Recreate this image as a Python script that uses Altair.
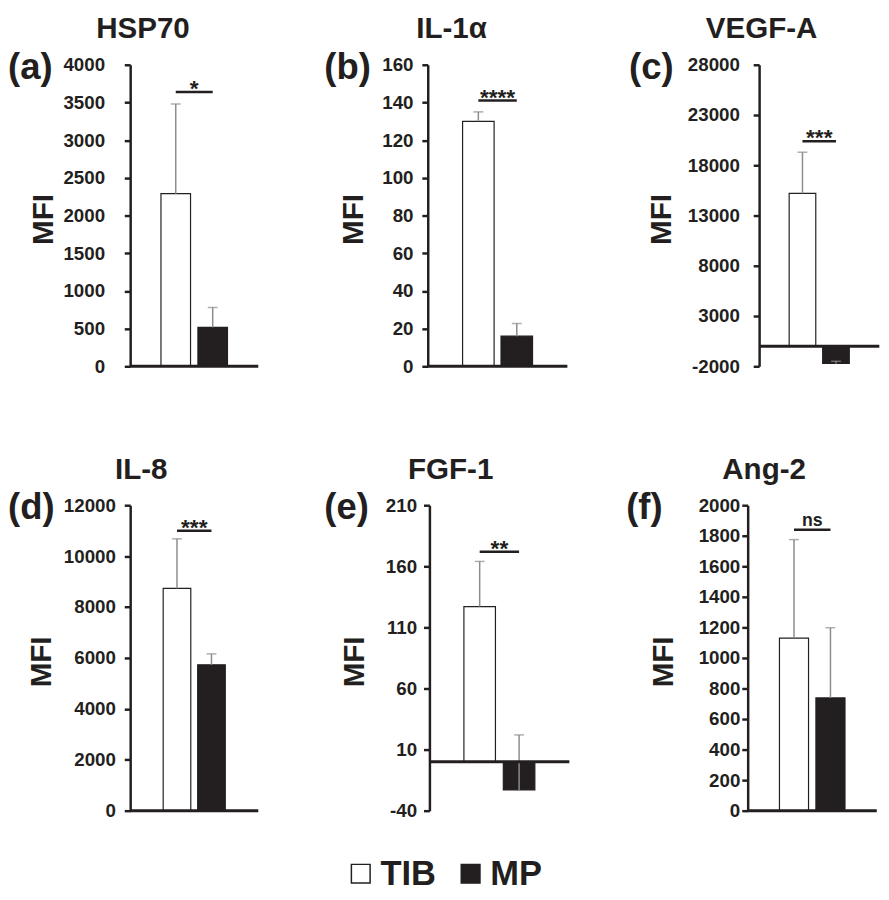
import altair as alt
import pandas as pd

# ---------------- data ----------------
panels = ["HSP70", "IL-1α", "VEGF-A", "IL-8", "FGF-1", "Ang-2"]
letters = ["(a)", "(b)", "(c)", "(d)", "(e)", "(f)"]
groups = ["TIB", "MP"]
tib_mean = [2290, 130, 15200, 8730, 127, 1130]
tib_sd = [1190, 5, 4100, 1950, 37, 645]
mp_mean = [517, 16, -1720, 5730, -23, 738]
mp_sd = [263, 6.7, 220, 430, 45, 460]
sig_text = ["*", "****", "***", "***", "**", "ns"]
sig_level = [3640, 141, 20400, 11000, 172, 1840]
y_min = [0, 0, -2000, 0, -40, 0]
y_max = [4000, 160, 28000, 12000, 210, 2000]
y_step = [500, 20, 5000, 2000, 50, 200]

# ---------------- style ----------------
INK = "#231f20"
GRAY = "#8c8c8c"
FONT = "Liberation Sans"

# per-panel layout: width, height, bar width, gap, label padding, title x, letter x, MFI x
layout = [
    dict(W=130, H=306, bw=30, gap=7.5, lp=20, tx=13, lx=-124, mx=-87.7),
    dict(W=141.7, H=306, bw=32, gap=7.0, lp=9, tx=24.2, lx=-105, mx=-75),
    dict(W=122, H=306, bw=27, gap=7.0, lp=14, tx=2.5, lx=-132, mx=-98.7),
    dict(W=130, H=310, bw=28, gap=7.0, lp=9, tx=11.2, lx=-124, mx=-89),
    dict(W=142, H=310, bw=32, gap=8.0, lp=7, tx=21.6, lx=-106.7, mx=-75),
    dict(W=131, H=310, bw=29.5, gap=7.5, lp=2, tx=16.7, lx=-123.3, mx=-85.3),
]

fill_scale = alt.Scale(domain=groups, range=["white", INK])


def panel(i, with_legend=False):
    L = layout[i]
    W = L["W"]
    H = L["H"]
    df = pd.DataFrame({
        "group": groups,
        "mean": [tib_mean[i], mp_mean[i]],
        "sd": [tib_sd[i], mp_sd[i]],
    })
    df["top"] = df["mean"] + df["sd"]

    step = L["bw"] + L["gap"]
    pin = L["gap"] / step
    pout = (W / step - 2 + pin) / 2
    xs = alt.Scale(type="band", domain=groups, paddingInner=pin, paddingOuter=pout)

    def X():
        return alt.X("group:N", sort=groups, scale=xs, axis=None)

    ticks = list(range(y_min[i], y_max[i] + 1, y_step[i]))
    ys = alt.Scale(domain=[y_min[i], y_max[i]], nice=False, zero=False)
    yax = alt.Axis(
        values=ticks, title=None, grid=False,
        domainColor=INK, domainWidth=2.5,
        tickColor=INK, tickWidth=2.5, tickSize=6,
        labelFont=FONT, labelFontSize=19, labelFontWeight="bold",
        labelColor=INK, labelPadding=L["lp"],
        labelExpr="'' + datum.value",
    )

    def Y(field):
        return alt.Y(field, scale=ys, axis=yax)

    base = alt.Chart(df)
    bars = base.mark_bar(stroke=INK, strokeWidth=1.2).encode(
        x=X(), y=Y("mean:Q"),
        fill=alt.Fill("group:N", scale=fill_scale, legend=None),
    )
    err = base.mark_rule(color=GRAY, strokeWidth=1.5).encode(
        x=X(), y=Y("mean:Q"), y2="top:Q"
    )
    cap = base.mark_tick(color=GRAY, size=10, thickness=1.5).encode(
        x=X(), y=Y("top:Q")
    )
    zero_df = pd.DataFrame({"zero": [0]})
    zero = alt.Chart(zero_df).mark_rule(color=INK, strokeWidth=3).encode(
        y=Y("zero:Q")
    )

    sig_df = pd.DataFrame({"group": groups, "level": [sig_level[i]] * 2})
    sig_line = alt.Chart(sig_df).mark_line(color=INK, strokeWidth=2.5).encode(
        x=X(), y=Y("level:Q")
    )
    txt_df = pd.DataFrame({"level": [sig_level[i]], "label": [sig_text[i]]})
    is_ns = sig_text[i] == "ns"
    sig_txt = alt.Chart(txt_df).mark_text(
        font=FONT, fontWeight="bold", color=INK,
        fontSize=18 if is_ns else 23,
        baseline="alphabetic", align="center",
        dy=-4 if is_ns else 4,
    ).encode(x=alt.value(W / 2), y=Y("level:Q"), text="label:N")

    t_df = pd.DataFrame({"title": [panels[i]], "letter": [letters[i]], "yl": ["MFI"]})
    title = alt.Chart(t_df).mark_text(
        font=FONT, fontWeight="bold", fontSize=30, color=INK,
        align="center", baseline="alphabetic",
    ).encode(x=alt.value(L["tx"]), y=alt.value(-27), text="title:N")
    letter = alt.Chart(t_df).mark_text(
        font=FONT, fontWeight="bold", fontSize=37, color=INK,
        align="left", baseline="alphabetic",
    ).encode(x=alt.value(L["lx"]), y=alt.value(14), text="letter:N")
    mfi = alt.Chart(t_df).mark_text(
        font=FONT, fontWeight="bold", fontSize=30, color=INK,
        align="center", baseline="middle", angle=270,
    ).encode(x=alt.value(L["mx"]), y=alt.value(H / 2 + 4), text="yl:N")

    layers = [bars, err, cap, zero, sig_line, sig_txt, title, letter, mfi]

    if with_legend:
        leg_df = pd.DataFrame({"group": groups})
        leg_x = alt.X(
            "group:N", sort=groups,
            scale=alt.Scale(type="point", domain=groups, range=[-69.7, 41.8], padding=0),
            axis=None,
        )
        leg_y = alt.value(H + 64)
        leg_sq = alt.Chart(leg_df).mark_square(
            size=361, stroke=INK, strokeWidth=1.5, opacity=1
        ).encode(x=leg_x, y=leg_y,
                 fill=alt.Fill("group:N", scale=fill_scale, legend=None))
        leg_txt = alt.Chart(leg_df).mark_text(
            align="left", baseline="middle", dx=20, fontSize=35,
            font=FONT, fontWeight="bold", color=INK,
        ).encode(x=leg_x, y=leg_y, text="group:N")
        layers += [leg_sq, leg_txt]
        return alt.layer(*layers).resolve_scale(x="independent").properties(width=W, height=H)

    return alt.layer(*layers).properties(width=W, height=H)


p = [panel(i, with_legend=(i == 4)) for i in range(6)]

row1 = alt.hconcat(
    p[0], alt.hconcat(p[1], p[2], spacing=194.3, bounds="flush"),
    spacing=172, bounds="flush",
)
row2 = alt.hconcat(
    p[3], alt.hconcat(p[4], p[5], spacing=181, bounds="flush"),
    spacing=173.7, bounds="flush",
)

chart = alt.vconcat(
    row1, row2, spacing=80, padding=0, background="white",
).configure_view(stroke=None)

chart.save("out.html", embed_options={"renderer": "svg", "actions": False})
